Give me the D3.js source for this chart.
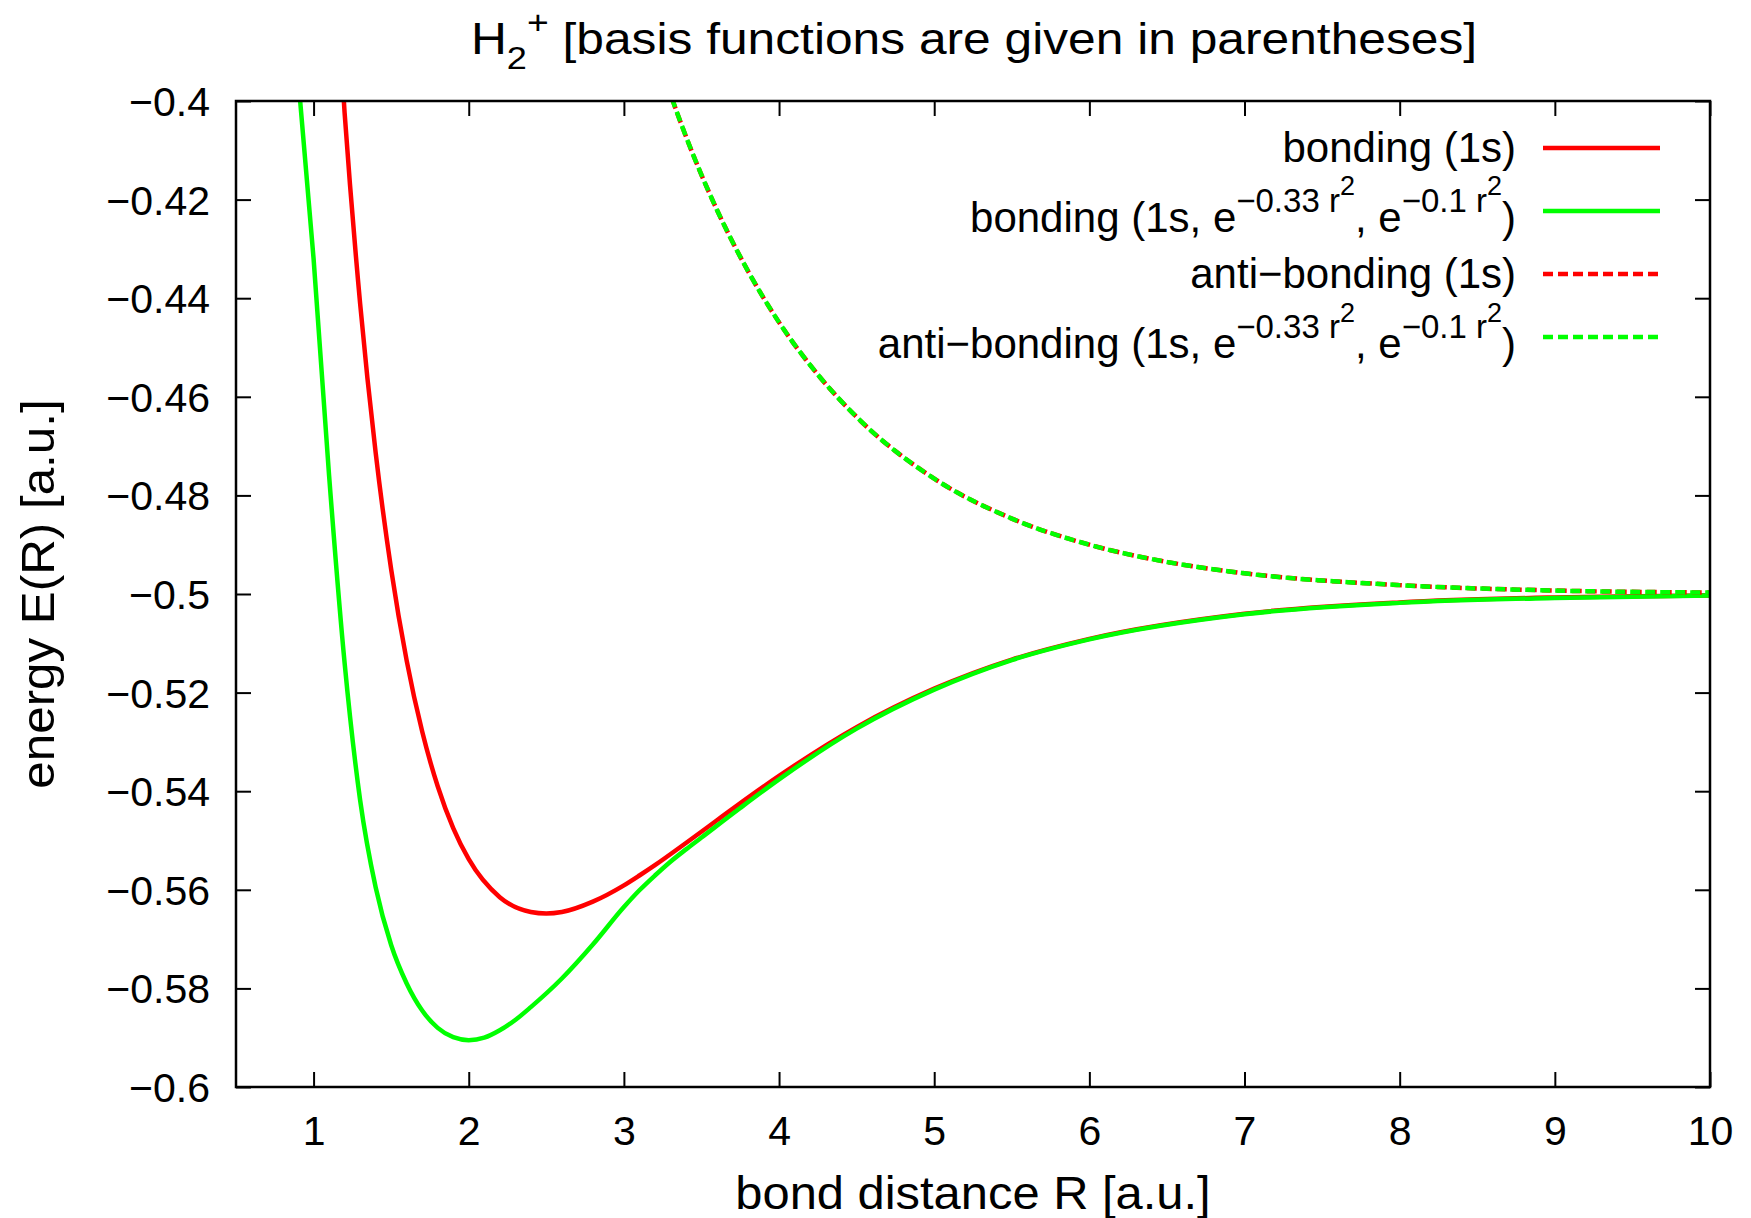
<!DOCTYPE html>
<html>
<head>
<meta charset="utf-8">
<script src="https://cdn.jsdelivr.net/npm/d3@7"></script>
<style>
  body { margin: 0; background: #fff; }
  text { font-family: "Liberation Sans", Arial, sans-serif; fill: #000; }
</style>
</head>
<body>
<svg id="chart"></svg>
<script>
// tick values
const xTicks = [1, 2, 3, 4, 5, 6, 7, 8, 9, 10];
const yTicks = [-0.6, -0.58, -0.56, -0.54, -0.52, -0.5, -0.48, -0.46, -0.44, -0.42, -0.4];

// bonding, 1s basis
const rBond1s = [1.1, 1.2, 1.3, 1.4, 1.5, 1.6, 1.7, 1.8, 1.9, 2.0, 2.2, 2.4, 2.5, 2.6, 2.8, 3.0, 3.1, 3.2, 3.4, 3.6, 3.8, 4.0, 4.5, 5.0, 5.5, 6.0, 7.0, 8.0, 9.0, 10.0];
const eBond1s = [-0.3527, -0.4024, -0.4411, -0.4713, -0.4950, -0.5135, -0.5279, -0.5390, -0.5475, -0.5538, -0.5615, -0.5645, -0.5648, -0.5645, -0.5624, -0.5591, -0.5571, -0.5550, -0.5505, -0.5459, -0.5413, -0.5369, -0.5270, -0.5192, -0.5133, -0.5091, -0.5040, -0.5017, -0.5007, -0.5003];

// bonding, extended basis (1s + two gaussians)
const rBondExt = [0.9, 1.0, 1.1, 1.2, 1.3, 1.4, 1.5, 1.6, 1.7, 1.8, 1.9, 2.0, 2.1, 2.2, 2.3, 2.4, 2.6, 2.8, 3.0, 3.1, 3.2, 3.3, 3.4, 3.5, 3.75, 4.0, 4.5, 5.0, 5.5, 6.0, 7.0, 8.0, 9.0, 10.0];
const eBondExt = [-0.395, -0.432, -0.476, -0.514, -0.5418, -0.5595, -0.5712, -0.5790, -0.5845, -0.5880, -0.5899, -0.5905, -0.5900, -0.5885, -0.5864, -0.5838, -0.5780, -0.5711, -0.5635, -0.5601, -0.5571, -0.5543, -0.5518, -0.5494, -0.5434, -0.5376, -0.5273, -0.5194, -0.5134, -0.5092, -0.5041, -0.5018, -0.5008, -0.5003];

// anti-bonding, 1s basis
const rAnti1s = [3.0, 3.2, 3.3, 3.4, 3.6, 3.8, 4.0, 4.25, 4.5, 5.0, 5.5, 6.0, 6.5, 7.0, 8.0, 9.0, 10.0];
const eAnti1s = [-0.3676, -0.3892, -0.3986, -0.4072, -0.4221, -0.4345, -0.4449, -0.4555, -0.4641, -0.4766, -0.4847, -0.4900, -0.4935, -0.4958, -0.4982, -0.4993, -0.4997];

// anti-bonding, extended basis
const rAntiExt = [3.0, 3.2, 3.3, 3.4, 3.6, 3.8, 4.0, 4.25, 4.5, 5.0, 5.5, 6.0, 6.5, 7.0, 8.0, 9.0, 10.0];
const eAntiExt = [-0.3676, -0.3892, -0.3986, -0.4072, -0.4221, -0.4345, -0.4449, -0.4555, -0.4641, -0.4766, -0.4847, -0.4900, -0.4935, -0.4958, -0.4982, -0.4993, -0.4997];

const extSuffix = [["bonding (1s, e", 0], ["\u22120.33 r", 1], ["2", 2], [", e", 0], ["\u22120.1 r", 1], ["2", 2], [")", 0]];
const series = [
  { label: [["bonding (1s)", 0]], r: rBond1s, e: eBond1s, color: "#ff0000", dash: null, offset: 0 },
  { label: extSuffix, r: rBondExt, e: eBondExt, color: "#00ff00", dash: null, offset: 0 },
  { label: [["anti\u2212bonding (1s)", 0]], r: rAnti1s, e: eAnti1s, color: "#ff0000", dash: "10,5", offset: 0 },
  { label: [["anti\u2212", 0]].concat(extSuffix), r: rAntiExt, e: eAntiExt, color: "#00ff00", dash: "10,5", offset: 1.5 }
];

const width = 1751, height = 1218;
const plotLeft = 236, plotRight = 1710, plotTop = 101, plotBottom = 1087;

const svg = d3.select("#chart").attr("width", width).attr("height", height);
svg.append("rect").attr("width", width).attr("height", height).attr("fill", "#fff");

const x = d3.scaleLinear().domain([0.5, 10]).range([plotLeft, plotRight]);
const y = d3.scaleLinear().domain([-0.6, -0.4]).range([plotBottom, plotTop]);
const fmt = d3.format("~g");

function styleAxis(g, size) {
  g.attr("font-size", size).attr("font-family", null);
  g.select(".domain").remove();
  g.selectAll(".tick line").attr("stroke", "#000").attr("stroke-width", 2);
  g.selectAll(".tick text").attr("fill", "#000");
}

svg.append("g")
  .attr("transform", `translate(0,${plotBottom})`)
  .call(d3.axisBottom(x).tickValues(xTicks).tickSizeInner(-15).tickSizeOuter(0).tickPadding(29).tickFormat(fmt))
  .call(g => styleAxis(g, 41));

svg.append("g")
  .attr("transform", `translate(${plotLeft},0)`)
  .call(d3.axisLeft(y).tickValues(yTicks).tickSizeInner(-15).tickSizeOuter(0).tickPadding(26).tickFormat(fmt))
  .call(g => styleAxis(g, 41))
  .call(g => g.selectAll(".tick text").attr("dy", "0.355em"));

svg.append("g")
  .attr("transform", `translate(0,${plotTop})`)
  .call(d3.axisTop(x).tickValues(xTicks).tickSizeInner(-15).tickSizeOuter(0).tickFormat(""))
  .call(g => styleAxis(g, 41));

svg.append("g")
  .attr("transform", `translate(${plotRight},0)`)
  .call(d3.axisRight(y).tickValues(yTicks).tickSizeInner(-15).tickSizeOuter(0).tickFormat(""))
  .call(g => styleAxis(g, 41));

// clip for curves
svg.append("clipPath").attr("id", "plotclip")
  .append("rect").attr("x", plotLeft).attr("y", plotTop)
  .attr("width", plotRight - plotLeft).attr("height", plotBottom - plotTop);

const line = d3.line()
  .x(d => x(d[0]))
  .y(d => y(d[1]))
  .curve(d3.curveMonotoneX);

const curves = svg.append("g").attr("clip-path", "url(#plotclip)");
series.forEach(s => {
  curves.append("path")
    .datum(d3.zip(s.r, s.e))
    .attr("d", line)
    .attr("fill", "none")
    .attr("stroke", s.color)
    .attr("stroke-width", 4.5)
    .attr("stroke-dasharray", s.dash)
    .attr("stroke-dashoffset", s.offset);
});

// frame
svg.append("rect")
  .attr("x", plotLeft).attr("y", plotTop)
  .attr("width", plotRight - plotLeft).attr("height", plotBottom - plotTop)
  .attr("fill", "none").attr("stroke", "#000").attr("stroke-width", 2.5);

// legend
const legendY = [148, 211, 274, 337];
const legendTextDy = [13.5, 20.5, 14.3, 21];
const legend = svg.append("g");
series.forEach((s, i) => {
  legend.append("line")
    .attr("x1", 1543).attr("x2", 1660)
    .attr("y1", legendY[i]).attr("y2", legendY[i])
    .attr("stroke", s.color).attr("stroke-width", 4.5)
    .attr("stroke-dasharray", s.dash);
  const t = legend.append("text")
    .attr("x", 1516).attr("y", legendY[i] + legendTextDy[i])
    .attr("text-anchor", "end")
    .attr("font-size", 42);
  let level = 0;
  const sizes = [42, 33, 27];
  const raise = [0, 20, 16.5];
  s.label.forEach(([txt, lv]) => {
    let dy = 0;
    if (lv > level) { for (let k = level + 1; k <= lv; k++) dy -= raise[k]; }
    else if (lv < level) { for (let k = level; k > lv; k--) dy += raise[k]; }
    level = lv;
    t.append("tspan").attr("dy", dy).attr("font-size", sizes[lv]).text(txt);
  });
});

// title
const title = svg.append("g").attr("transform", `translate(${(plotLeft + plotRight) / 2 + 1},54) scale(1.13,1)`)
  .append("text").attr("text-anchor", "middle").attr("font-size", 44);
title.append("tspan").text("H");
title.append("tspan").attr("dy", 15).attr("font-size", 32).text("2");
title.append("tspan").attr("dy", -35).attr("font-size", 33).text("+");
title.append("tspan").attr("dy", 20).text(" [basis functions are given in parentheses]");

// axis labels
svg.append("g").attr("transform", `translate(${(plotLeft + plotRight) / 2},1209) scale(1.04,1)`)
  .append("text").attr("text-anchor", "middle").attr("font-size", 47)
  .text("bond distance R [a.u.]");

svg.append("g").attr("transform", `translate(53.5,${(plotTop + plotBottom) / 2}) rotate(-90) scale(1.05,1)`)
  .append("text").attr("text-anchor", "middle").attr("font-size", 47)
  .text("energy E(R) [a.u.]");
</script>
</body>
</html>
